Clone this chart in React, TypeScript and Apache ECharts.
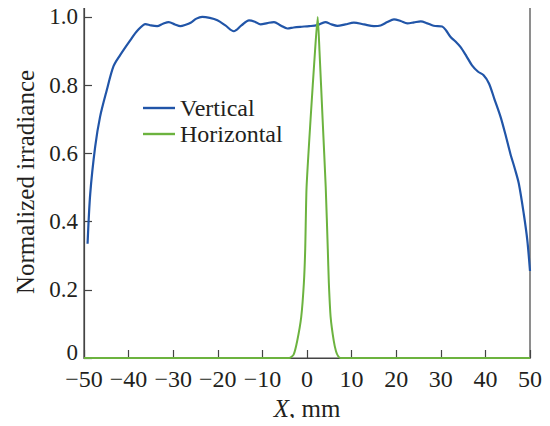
import React, { useEffect, useRef } from "react";
import * as echarts from "echarts";

const verticalX = [
  -49.2, -48.6, -47.5, -46.4, -44.9, -43.4, -41.9, -39.6, -38, -36.2, -35, -33.6, -32.3, -31,
  -29.6, -28.4, -27.2, -26.1, -24.8, -23.5, -21.8, -20.1, -18.3, -16.4, -14.7, -13, -11.7,
  -10.4, -8.9, -7.4, -5.9, -4.4, -3, -1.5, 0.5, 2.3, 4.1, 5.5, 6.8, 8.6, 10.5, 12.8, 15, 16.5,
  18, 19.5, 21, 22.5, 24, 25.5, 27, 28.4, 30.3, 31.2, 32.2, 33.3, 34.4, 35.7, 37, 38.3, 39.6,
  40.8, 42, 43.4, 44.5, 45.6, 46.6, 47.5, 48.6, 49.4, 50,
];
const verticalY = [
  0.335, 0.482, 0.619, 0.707, 0.785, 0.855, 0.888, 0.932, 0.96, 0.979, 0.975, 0.973, 0.98,
  0.985, 0.978, 0.973, 0.977, 0.983, 0.995, 1.0, 0.997, 0.99, 0.975, 0.958, 0.975, 0.99,
  0.986, 0.978, 0.982, 0.985, 0.975, 0.966, 0.969, 0.971, 0.973, 0.976, 0.985, 0.978, 0.974,
  0.978, 0.983, 0.978, 0.973, 0.975, 0.985, 0.993, 0.988, 0.981, 0.984, 0.987, 0.981, 0.974,
  0.972, 0.96, 0.941, 0.928, 0.912, 0.886, 0.858, 0.84, 0.829, 0.805, 0.76, 0.707, 0.655,
  0.599, 0.555, 0.511, 0.423, 0.345, 0.255,
];
const horizontalX = [
  -50, -4, -3, -2.2, -1.3, -0.7, -0.4, -0.1, 0.8, 1.8, 2.4, 2.8, 3.5, 4.2, 4.66, 4.9, 5.3, 6,
  6.5, 7, 7.5, 50,
];
const horizontalY = [
  0, 0, 0.01, 0.05, 0.12, 0.22, 0.32, 0.5, 0.7, 0.9, 1.0, 0.9, 0.7, 0.5, 0.32, 0.22, 0.12,
  0.05, 0.02, 0.005, 0, 0,
];
const yTicks = [0, 0.2, 0.4, 0.6, 0.8, 1.0];
const seriesNames = ["Vertical", "Horizontal"];

const FONT = "Liberation Serif";
const TEXT = "#231f20";

export default function App() {
  const ref = useRef<HTMLDivElement>(null);
  useEffect(() => {
    if (!ref.current) return;
    const chart = echarts.init(ref.current, null, { renderer: "svg" });
    const vData = verticalX.map((x, i) => [x, verticalY[i]]);
    const hData = horizontalX.map((x, i) => [x, horizontalY[i]]);
    chart.setOption({
      animation: false,
      textStyle: { fontFamily: FONT, color: TEXT },
      grid: {
        left: 84,
        right: 20,
        top: 6,
        bottom: 68,
        show: true,
        borderColor: "#444",
        borderWidth: 1.2,
        backgroundColor: "transparent",
      },
      legend: {
        orient: "vertical",
        left: 143,
        top: 96,
        padding: 0,
        icon: "rect",
        itemWidth: 32,
        itemHeight: 2.4,
        itemGap: 2,
        textStyle: { fontFamily: FONT, fontSize: 24, color: TEXT, lineHeight: 24 },
        data: seriesNames,
      },
      xAxis: {
        type: "value",
        min: -50,
        max: 50,
        interval: 10,
        name: "{i|X}, mm",
        nameLocation: "middle",
        nameGap: 36,
        nameTextStyle: {
          fontFamily: FONT,
          fontSize: 25,
          color: TEXT,
          rich: { i: { fontStyle: "italic", fontFamily: FONT, fontSize: 25, color: TEXT } },
        },
        axisLine: { onZero: false, lineStyle: { color: "#444", width: 1.2 } },
        axisTick: { inside: true, length: 8, lineStyle: { color: "#444", width: 1.2 } },
        axisLabel: {
          fontFamily: FONT,
          fontSize: 24,
          color: TEXT,
          margin: 9,
          formatter: (v: number) => (v < 0 ? "\u2212" + Math.abs(v) : String(v)),
        },
        splitLine: { show: false },
      },
      yAxis: {
        type: "value",
        min: 0,
        max: 1.032,
        name: "Normalized irradiance",
        nameLocation: "middle",
        nameGap: 42,
        nameTextStyle: { fontFamily: FONT, fontSize: 25, color: TEXT },
        axisLine: { onZero: false, lineStyle: { color: "#444", width: 1.2 } },
        axisTick: {
          inside: true,
          length: 8,
          customValues: yTicks,
          lineStyle: { color: "#444", width: 1.2 },
        },
        axisLabel: {
          fontFamily: FONT,
          fontSize: 23,
          color: TEXT,
          margin: 6,
          customValues: yTicks,
          formatter: (v: number) => (v === 0 ? "{z|0}" : v.toFixed(1)),
          rich: {
            z: { fontFamily: FONT, fontSize: 23, color: TEXT, padding: [0, 0, 12, 0] },
          },
        },
        splitLine: { show: false },
      },
      series: [
        {
          name: seriesNames[0],
          type: "line",
          data: vData,
          symbol: "none",
          smooth: 0.3,
          lineStyle: { color: "#2155a8", width: 2.2 },
          itemStyle: { color: "#2155a8" },
          z: 3,
        },
        {
          name: seriesNames[1],
          type: "line",
          data: hData,
          symbol: "none",
          smooth: 0.2,
          lineStyle: { color: "#6cb33f", width: 2 },
          itemStyle: { color: "#6cb33f" },
          z: 4,
        },
      ],
    });
    return () => chart.dispose();
  }, []);
  return <div ref={ref} style={{ width: 550, height: 426, margin: -8 }} />;
}
